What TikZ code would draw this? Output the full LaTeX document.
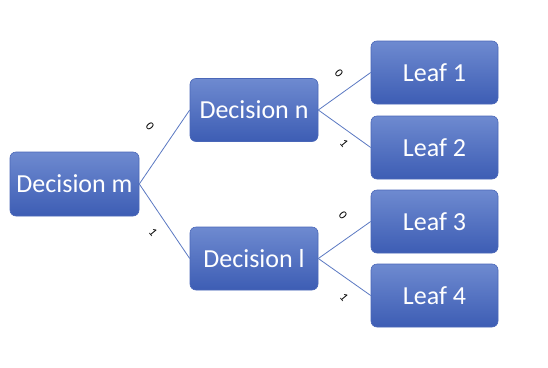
\documentclass[tikz,border=0pt]{standalone}
\usepackage{fontspec}
\setmainfont{Carlito}
\begin{document}
\begin{tikzpicture}[x=1pt,y=-1pt,
  box/.style={draw=boxedge, line width=0.6pt, rounded corners=6pt, top color=boxtop, bottom color=boxbot,
    minimum width=128pt, minimum height=63pt, text=white, font=\fontsize{26}{30}\selectfont, inner sep=0pt},
  leafbox/.style={box, minimum width=127pt},
  conn/.style={draw=linec, line width=0.8pt},
  lbl/.style={font=\fontsize{12}{14}\selectfont, rotate=-50, inner sep=0pt}]
\definecolor{boxtop}{HTML}{6E8AD0}
\definecolor{boxbot}{HTML}{3D5DB4}
\definecolor{boxedge}{HTML}{4A67B8}
\definecolor{linec}{HTML}{5A78C2}
\useasboundingbox (0,0) rectangle (548,367);
\node[box, minimum width=129pt, minimum height=64pt] (m) at (74.5,184) {Decision m};
\node[box] (n) at (254,110) {Decision n};
\node[box] (l) at (254,258.5) {Decision l};
\node[leafbox] (a) at (434.5,72.5) {Leaf 1};
\node[leafbox] (b) at (434.5,147.5) {Leaf 2};
\node[leafbox] (c) at (434.5,221.5) {Leaf 3};
\node[leafbox] (d) at (434.5,295.5) {Leaf 4};
\draw[conn] (m.east) -- (n.west);
\draw[conn] (m.east) -- (l.west);
\draw[conn] (n.east) -- (a.west);
\draw[conn] (n.east) -- (b.west);
\draw[conn] (l.east) -- (c.west);
\draw[conn] (l.east) -- (d.west);
\node[lbl] (t1) at (150,126) {0};
\node[lbl] (t2) at (153,232) {1};
\node[lbl] (t3) at (339,73) {0};
\node[lbl] (t4) at (344,143) {1};
\node[lbl] (t5) at (343,215) {0};
\node[lbl] (t6) at (344,297) {1};
\end{tikzpicture}
\end{document}
